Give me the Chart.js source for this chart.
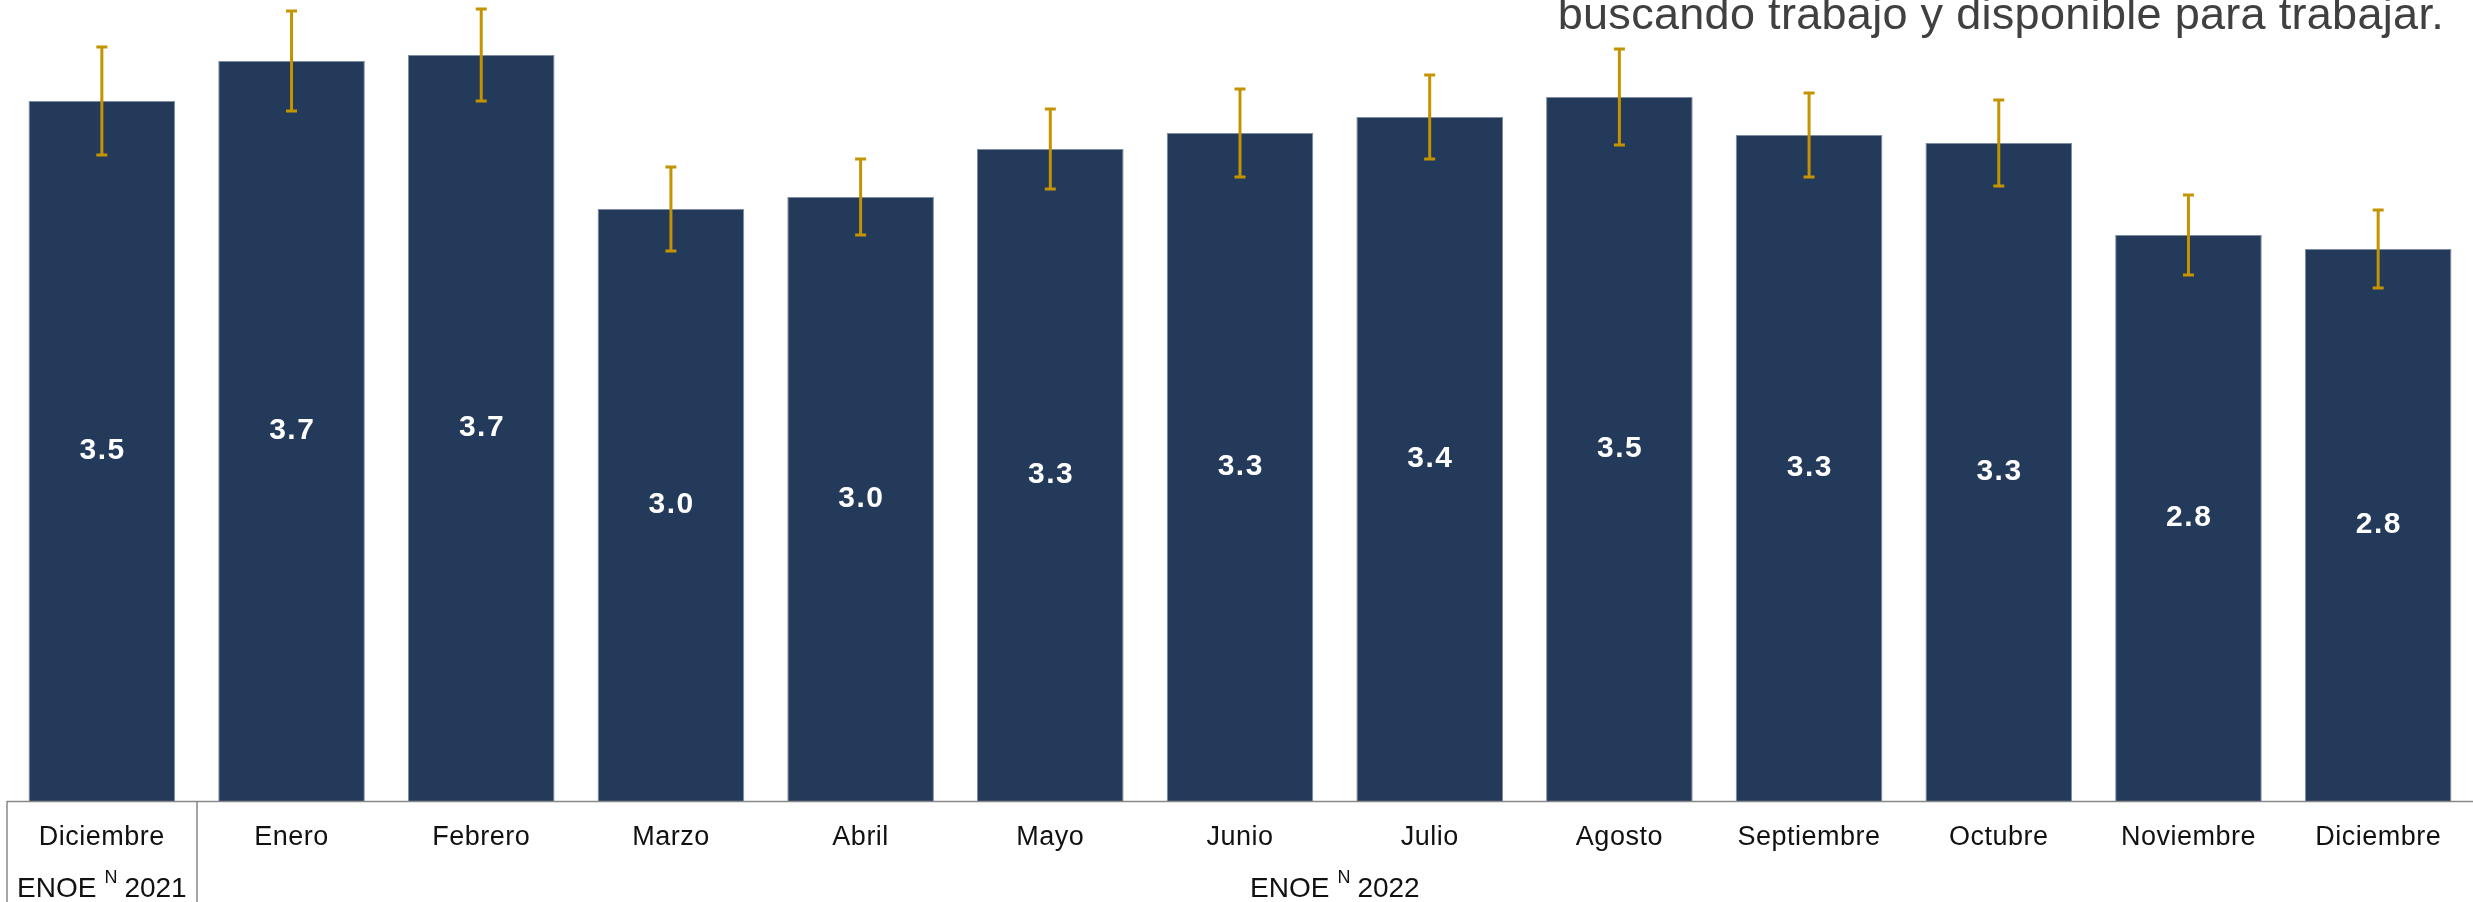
<!DOCTYPE html>
<html><head><meta charset="utf-8">
<script src="https://cdn.jsdelivr.net/npm/chart.js@4/dist/chart.umd.min.js"></script>
<style>html,body{margin:0;padding:0;background:#fff;overflow:hidden}#wrap{width:2473px;height:902px;position:relative}canvas{display:block}</style>
</head><body><div id="wrap"><canvas id="c" width="2473" height="902"></canvas></div>
<script>
const categories = ['Diciembre','Enero','Febrero','Marzo','Abril','Mayo','Junio','Julio','Agosto','Septiembre','Octubre','Noviembre','Diciembre'];
const values = [3.50, 3.70, 3.73, 2.96, 3.02, 3.26, 3.34, 3.42, 3.52, 3.33, 3.29, 2.83, 2.76];
const errors = [0.27, 0.25, 0.23, 0.21, 0.19, 0.20, 0.22, 0.21, 0.24, 0.21, 0.215, 0.20, 0.195];
const groupNames = ['ENOE', 'ENOE'];
const groupSup = ['N', 'N'];
const groupYears = ['2021', '2022'];
const groupStart = [0, 1];
const groupEnd = [0, 12];
const titleText = 'buscando trabajo y disponible para trabajar.';

const FONT = '"Liberation Sans", Arial, sans-serif';
const BAR = '#233A5A';
const ERR = '#C49400';

const overlay = {
  id: 'overlay',
  afterDatasetsDraw(chart) {
    const ctx = chart.ctx, y = chart.scales.y;
    const meta = chart.getDatasetMeta(0);
    ctx.save();
    // error bars
    ctx.strokeStyle = ERR;
    meta.data.forEach((bar, i) => {
      const top = y.getPixelForValue(values[i] + errors[i]);
      const bot = y.getPixelForValue(values[i] - errors[i]);
      ctx.lineWidth = 3;
      ctx.beginPath(); ctx.moveTo(bar.x, top); ctx.lineTo(bar.x, bot); ctx.stroke();
      ctx.beginPath();
      ctx.moveTo(bar.x - 5.5, top); ctx.lineTo(bar.x + 5.5, top);
      ctx.moveTo(bar.x - 5.5, bot); ctx.lineTo(bar.x + 5.5, bot);
      ctx.stroke();
    });
    // value labels
    ctx.fillStyle = '#ffffff';
    ctx.font = 'bold 30px ' + FONT;
    ctx.letterSpacing = '1.5px';
    ctx.textAlign = 'center';
    ctx.textBaseline = 'middle';
    meta.data.forEach((bar, i) => {
      const cy = (y.getPixelForValue(values[i]) + y.getPixelForValue(0)) / 2;
      ctx.fillText(values[i].toFixed(1), bar.x + 0.75, cy);
    });
    ctx.restore();
  },
  afterDraw(chart) {
    const ctx = chart.ctx, x = chart.scales.x, area = chart.chartArea;
    const H = chart.height;
    ctx.save();
    // axis line & group box
    ctx.strokeStyle = '#888888';
    ctx.lineWidth = 1.5;
    ctx.beginPath();
    ctx.moveTo(area.left, area.bottom + 0.5); ctx.lineTo(area.right, area.bottom + 0.5);
    ctx.stroke();
    const step = (area.right - area.left) / categories.length;
    ctx.beginPath();
    ctx.moveTo(area.left, area.bottom); ctx.lineTo(area.left, H);
    for (let g = 0; g < groupEnd.length - 1; g++) {
      const bx = Math.round(x.getPixelForValue(groupEnd[g]) + step / 2);
      ctx.moveTo(bx, area.bottom); ctx.lineTo(bx, H);
    }
    ctx.stroke();
    // tick labels
    ctx.fillStyle = '#111111';
    ctx.textAlign = 'center';
    ctx.textBaseline = 'alphabetic';
    ctx.font = '27px ' + FONT;
    ctx.letterSpacing = '0.5px';
    categories.forEach((c, i) => ctx.fillText(c, x.getPixelForValue(i), 845));
    // group labels
    ctx.textAlign = 'left';
    ctx.letterSpacing = '0px';
    groupNames.forEach((name, g) => {
      const cx = (x.getPixelForValue(groupStart[g]) + x.getPixelForValue(groupEnd[g])) / 2;
      ctx.font = '28px ' + FONT;
      const w1 = ctx.measureText(name).width;
      const w3 = ctx.measureText(groupYears[g]).width;
      ctx.font = '18px ' + FONT;
      const w2 = ctx.measureText(groupSup[g]).width;
      const total = w1 + 8 + w2 + 7 + w3;
      let sx = cx - total / 2;
      ctx.font = '28px ' + FONT;
      ctx.fillText(name, sx, 897);
      ctx.font = '18px ' + FONT;
      ctx.fillText(groupSup[g], sx + w1 + 8, 883);
      ctx.font = '28px ' + FONT;
      ctx.fillText(groupYears[g], sx + w1 + 8 + w2 + 7, 897);
    });
    // title (partially cut at top)
    ctx.fillStyle = '#404040';
    ctx.font = '45px ' + FONT;
    ctx.letterSpacing = '0.3px';
    ctx.textAlign = 'right';
    ctx.fillText(titleText, 2444, 29);
    ctx.restore();
  }
};

new Chart(document.getElementById('c'), {
  type: 'bar',
  data: {
    labels: categories,
    datasets: [{
      data: values,
      backgroundColor: BAR,
      borderColor: '#7d8da3',
      borderWidth: 1,
      barPercentage: 0.773,
      categoryPercentage: 1.0
    }]
  },
  options: {
    responsive: false,
    devicePixelRatio: 1,
    animation: false,
    layout: { padding: { top: 1, bottom: 101, left: 7, right: 0 } },
    plugins: { legend: { display: false }, tooltip: { enabled: false }, title: { display: false } },
    scales: {
      x: { display: false },
      y: { display: false, min: 0, max: 4.0 }
    }
  },
  plugins: [overlay]
});
</script></body></html>
